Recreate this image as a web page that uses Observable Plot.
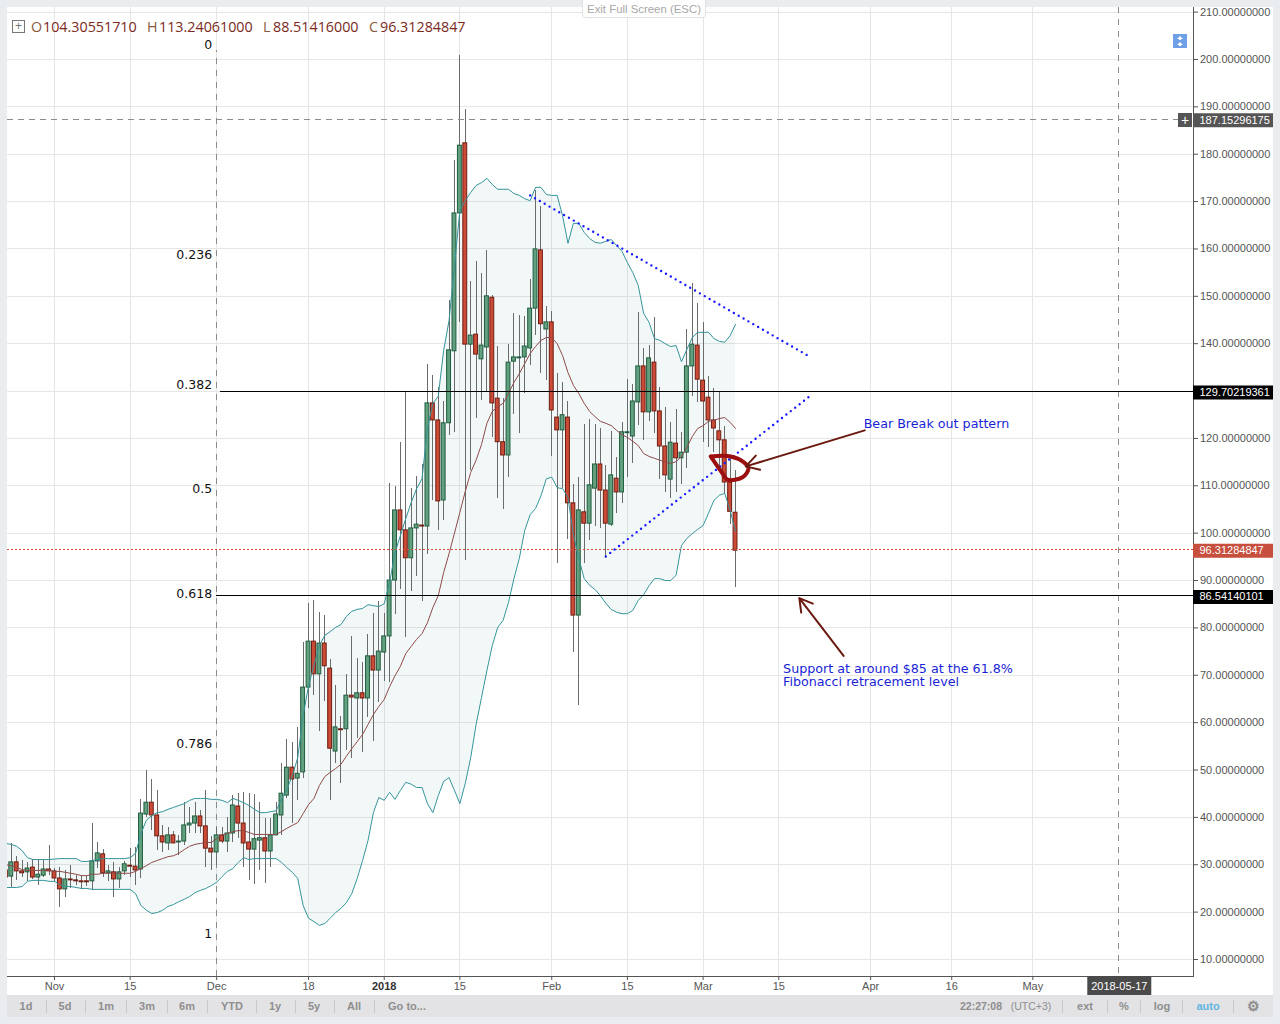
<!DOCTYPE html>
<html><head><meta charset="utf-8">
<script src="https://cdn.jsdelivr.net/npm/d3@7"></script>
<script src="https://cdn.jsdelivr.net/npm/@observablehq/plot@0.6"></script>
<style>
html,body{margin:0;padding:0;background:#e9edf0;width:1280px;height:1024px;overflow:hidden}
#sheet{position:absolute;left:7px;top:7px;width:1266px;height:988px;background:#fff}
#chart{position:absolute;left:0;top:0}
.bar{position:absolute;left:7px;top:995px;width:1266px;height:22px;background:#e3e3e5;font:bold 11px "Liberation Sans",sans-serif;color:#8e8e8e}
.bar span{position:absolute;top:5px;transform:translateX(-50%);white-space:nowrap}
.bar i{position:absolute;top:5px;width:1px;height:13px;background:#c9c9cc}
#hdr{position:absolute;left:31px;top:17px;font:14.3px "Open Sans",sans-serif;color:#7a2a1c;white-space:nowrap;background:transparent}
#hdr b{font-weight:400;color:#8a5c3c;position:absolute;top:0}
#hdr span{position:absolute;top:0}
#plus{position:absolute;left:12px;top:20px;width:11px;height:11px;border:1px solid #777;color:#777;font:12px/10px "Liberation Sans";text-align:center}
#exit{position:absolute;left:582px;top:-1px;width:122px;height:17px;border:1px solid #dfe2e5;border-radius:0 0 4px 4px;background:#fff;color:#a8a8a8;font:11.4px/19px "Liberation Sans";text-align:center}
#scale{position:absolute;left:1173px;top:34px;width:14px;height:14px;background:#6f9fe6}
#cross{position:absolute;left:1178px;top:113px;width:14px;height:14px;background:#555;color:#fff;font:14px/14px "Liberation Sans";text-align:center}
</style></head><body>
<div id="sheet"></div>
<div id="chart"></div>
<div id="plus">+</div>
<div id="hdr"><b style="left:0">O</b><span style="left:12px">104.30551710</span><b style="left:116px">H</b><span style="left:128px">113.24061000</span><b style="left:232px">L</b><span style="left:242px">88.51416000</span><b style="left:338px">C</b><span style="left:349px">96.31284847</span></div>
<div id="exit">Exit Full Screen (ESC)</div>
<div id="scale"><svg width="14" height="14" viewBox="0 0 14 14"><path d="M7 2l-3 3h2v1h2v-1h2zM7 8l-3 3h2v1h2v-1h2z" fill="#fff"/></svg></div>
<div id="cross">+</div>
<div class="bar" id="bar"></div>
<script>
const opens=[28.8,27.5,30.5,28.6,28.4,29.4,27.3,27.7,29.0,28.6,27.1,24.8,26.9,26.7,26.5,26.5,26.5,30.7,32.2,28.2,28.4,26.9,28.6,29.8,29.6,29.0,40.6,43.1,40.4,36.0,34.5,36.2,34.7,34.9,38.3,38.7,40.2,38.1,33.4,32.6,36.2,34.9,36.6,42.3,38.7,34.7,33.2,35.1,35.6,32.8,36.2,40.4,44.6,50.5,48.2,49.5,67.4,77.1,70.2,76.7,71.4,53.9,58.6,58.6,65.7,65.1,66.2,65.1,74.0,71.0,74.8,78.2,90.0,104.8,100.6,94.7,101.0,101.6,101.4,127.4,123.8,106.9,123.2,138.4,167.5,182.3,139.8,141.9,136.7,139.2,149.7,128.4,119.2,116.4,136.2,136.9,137.1,139.0,147.4,159.7,143.0,144.5,124.4,121.7,124.4,106.3,82.6,104.4,102.0,109.4,114.5,109.0,101.8,111.5,108.6,121.1,120.4,127.6,135.2,125.5,136.0,125.7,118.3,111.3,118.9,115.8,117.0,135.2,139.6,132.2,128.6,123.8,121.5,119.6,110.7,104.31];
const closes=[27.3,30.5,28.6,28.2,29.2,27.3,27.9,29.0,28.6,27.1,24.8,26.9,26.7,26.5,26.3,26.3,30.7,32.4,28.2,28.6,26.9,28.4,30.1,29.6,28.8,40.8,43.1,40.4,36.0,34.7,36.2,34.5,34.9,38.3,38.7,40.2,38.1,33.4,32.6,36.2,34.9,36.6,42.5,38.7,34.5,33.2,35.4,35.6,32.8,36.2,40.6,45.0,50.5,48.0,49.2,67.4,77.1,70.2,76.7,71.9,54.5,59.0,58.4,65.7,65.3,66.2,65.1,74.0,71.0,75.0,78.2,90.0,104.8,100.6,94.7,101.0,101.8,101.4,127.4,123.8,106.7,123.2,138.6,167.5,181.8,139.8,141.7,137.7,139.6,150.0,127.4,119.2,116.4,136.0,137.1,137.1,139.4,147.4,159.9,144.1,144.5,125.9,121.7,124.9,106.3,82.6,104.8,102.0,110.1,114.5,109.0,102.0,112.2,108.6,121.3,121.3,127.8,135.2,125.5,136.9,125.7,118.3,112.2,119.1,115.8,117.0,135.2,139.8,132.4,127.8,123.8,122.1,119.6,110.7,104.5,96.31];
const highs=[30.5,34.5,31.7,30.9,30.5,31.1,31.1,30.9,34.1,29.2,29.4,28.8,29.8,27.7,27.7,27.5,38.7,34.7,33.2,29.8,30.5,29.4,30.7,33.4,33.6,43.8,49.9,48.0,45.7,38.3,37.9,37.0,36.2,43.1,42.1,43.1,41.5,45.7,36.0,37.8,37.8,40.0,44.6,45.0,45.2,45.0,44.8,43.1,39.8,39.8,43.1,51.4,56.4,55.8,59.0,76.9,85.2,85.8,83.3,82.6,73.3,67.8,61.3,70.2,78.2,73.5,72.7,78.6,83.0,85.6,83.0,110.5,109.9,119.2,129.7,109.4,112.0,114.5,135.6,133.3,130.8,127.8,149.1,178.7,200.8,189.5,153.1,157.3,154.8,159.7,150.2,139.4,128.4,139.8,146.4,146.0,145.7,153.6,172.3,169.0,147.9,146.8,133.7,131.8,127.8,110.3,111.8,122.9,124.0,122.9,122.1,114.3,121.5,116.0,123.4,132.4,131.4,146.6,139.0,139.6,145.5,130.8,126.5,123.4,126.1,121.3,143.0,152.7,148.5,144.5,133.1,130.5,129.7,122.5,116.0,113.24];
const lows=[25.8,25.2,26.7,27.3,26.5,26.9,25.6,27.3,27.7,26.3,21.0,23.1,25.0,25.6,24.8,25.4,24.6,29.2,27.3,26.5,23.1,25.0,27.7,27.3,25.6,27.1,40.0,37.2,33.0,32.6,33.0,34.5,31.9,34.1,36.6,36.6,36.6,29.4,28.8,29.8,34.5,32.6,34.7,35.5,29.4,26.7,25.8,28.8,26.1,29.4,36.2,36.2,44.0,38.7,43.6,48.2,63.0,65.7,58.1,64.5,43.6,51.4,47.2,54.1,52.4,56.7,53.7,61.1,56.0,64.3,68.7,68.5,82.8,88.1,78.0,87.7,90.9,85.6,95.5,106.9,100.6,102.7,120.6,121.3,144.5,94.2,113.2,124.2,128.0,129.7,120.2,107.3,105.0,111.8,125.1,121.0,129.5,135.4,141.7,133.7,132.2,116.2,93.6,109.4,98.7,74.8,63.6,93.6,98.5,101.4,101.0,94.7,101.4,104.2,106.3,111.8,114.7,122.7,119.6,123.6,121.0,111.3,108.6,107.3,108.6,110.3,113.7,128.9,127.6,119.2,118.1,117.0,113.2,108.4,101.8,88.51];
const upper=[34.5,34.3,33.9,33.0,31.5,31.1,31.1,31.1,31.1,31.2,31.3,31.3,31.3,31.3,30.7,30.7,30.9,31.1,31.3,31.3,31.3,31.3,31.3,31.5,32.4,36.6,39.4,40.4,41.0,41.2,41.7,42.1,42.5,42.9,43.6,44.0,44.0,44.0,43.8,43.8,43.6,43.1,44.0,43.6,43.1,42.5,41.7,41.0,41.0,41.2,41.4,43.8,45.9,48.8,52.6,61.5,67.8,72.1,76.3,78.4,79.2,80.1,80.7,82.4,83.5,83.9,84.1,84.9,84.7,84.5,85.1,89.6,95.9,99.5,103.1,106.5,109.4,111.5,122.1,127.4,128.9,138.6,144.9,156.5,168.1,170.2,171.9,173.4,174.0,174.9,173.6,172.6,172.6,172.6,171.7,171.3,170.6,170.2,173.0,173.0,171.5,171.3,171.3,167.0,161.2,165.4,165.4,163.5,162.2,161.4,161.2,161.6,162.0,160.7,159.5,157.1,155.0,152.3,146.4,144.5,141.1,140.7,140.0,139.4,139.6,136.2,138.8,141.3,142.4,142.4,142.4,141.1,140.5,140.3,141.7,144.1];
const lower=[25.2,25.2,25.2,25.4,26.5,26.7,26.7,26.7,26.5,26.5,25.8,25.4,25.4,25.2,25.0,25.0,24.8,24.8,24.8,24.8,24.8,24.8,24.8,24.8,23.9,21.4,20.4,19.7,19.9,20.4,21.2,21.6,22.2,22.7,23.3,24.1,24.6,25.0,25.6,26.3,27.5,28.6,29.2,30.5,31.5,31.1,31.3,31.3,31.3,31.3,31.3,30.5,29.4,28.4,27.1,21.4,18.7,18.0,17.2,17.6,18.7,19.9,20.8,22.0,23.9,27.1,30.9,35.1,41.0,44.2,43.6,45.3,43.8,45.7,47.4,47.0,46.3,46.3,42.9,41.0,44.6,47.6,48.4,45.7,42.9,47.2,52.6,59.6,65.3,71.0,76.3,80.1,81.6,85.4,90.4,94.7,100.6,103.9,105.2,107.9,111.5,111.8,109.6,109.4,107.5,99.7,94.7,90.4,89.0,88.1,86.8,85.2,83.9,83.3,83.0,83.0,83.7,85.8,87.0,88.9,90.4,90.4,90.0,90.0,91.1,97.4,98.9,99.9,100.8,101.6,104.2,106.9,108.0,108.4,104.8,100.4];
const basis=[30.0,29.8,29.4,29.0,28.8,28.8,28.8,28.8,28.8,28.6,28.6,28.4,28.2,28.0,27.7,27.7,28.0,28.0,28.2,28.2,28.2,28.2,28.2,28.2,28.6,29.2,29.8,30.5,30.9,31.3,31.7,31.9,32.4,33.2,33.9,34.3,34.5,34.7,34.7,35.5,36.2,36.6,37.0,37.2,37.2,36.8,36.4,36.4,36.4,36.4,36.4,37.0,37.7,38.3,38.9,40.8,42.7,44.0,46.7,48.6,49.5,50.3,51.2,52.9,54.5,56.0,57.5,59.6,61.7,63.4,64.9,67.6,69.9,71.9,74.6,76.1,77.6,78.8,81.1,84.3,86.8,91.7,95.7,100.0,104.4,108.8,112.8,115.4,118.7,123.2,125.7,126.7,127.4,129.5,131.8,133.7,135.8,137.9,139.4,140.7,141.3,141.3,140.0,137.5,133.9,131.2,129.5,127.4,125.7,124.6,123.6,123.2,122.7,121.7,120.8,120.2,119.4,118.5,116.8,116.2,115.8,115.4,115.0,114.7,115.1,116.2,118.1,120.4,122.1,122.7,123.6,123.8,124.2,124.4,123.4,122.1];

const priceTicks=d3.range(10,220,10);
const xTickDays=[0,14,30,47,61,75,92,106,120,134,151,166,181];
const xTickLabels=["Nov","15","Dec","18","","15","Feb","15","Mar","15","Apr","16","May"];
const fibLabels=["0","0.236","0.382","0.5","0.618","0.786","1"];
const fibPrices=[203.0,158.7,131.3,109.3,87.1,55.4,15.3];
const firstCandleDay=-9, markerDay=197, fibStartDay=30;
const trendDays=[[88,139.5],[102,139.5]];
const trendPrices=[[171.3,137.4],[95.1,128.7]];
const doodleDays=[121.4,125.1,127.5,128.4,127.3,124.5,123.6,121.4];
const doodlePrices=[116.2,116.2,115.0,113.7,111.8,111.3,112.6,116.2];
const tags=[{p:187.15296175,bg:"#555",t:"187.15296175"},{p:129.70219361,bg:"#000",t:"129.70219361"},{p:96.31284847,bg:"#c64f3e",t:"96.31284847"},{p:86.54140101,bg:"#000",t:"86.54140101"}];
const leftBtns=[["1d",19],["5d",58],["1m",99],["3m",140],["6m",180],["YTD",225],["1y",268],["5y",307],["All",347],["Go to...",400]];
const leftSeps=[39,78,119,160,200,249,288,327,367];
const rightSeps=[1055,1100,1133,1175,1226];

const day=n=>new Date(Date.UTC(2017,10,1)+n*864e5);
const pxDay=5.405;
const xDomain=[day((7-54)/pxDay),day((1193-54)/pxDay)];
const yDomain=[6.41,210.97];
const farRight=(1273-54)/pxDay, labelRight=(1199-54)/pxDay;
const candles=opens.map((o,i)=>({d:firstCandleDay+i,o,c:closes[i],h:highs[i],l:lows[i],u:upper[i],lo:lower[i],b:basis[i]}));
const up=d=>d.c>=d.o;
const crisp={shapeRendering:"crispEdges"};

const plot=Plot.plot({
  width:1280,height:995,marginLeft:7,marginRight:87,marginTop:7,marginBottom:19,
  style:{background:"transparent",fontFamily:"Liberation Sans",fontSize:"11px"},
  x:{type:"utc",domain:xDomain,axis:null},
  y:{domain:yDomain,axis:null},
  marks:[
    Plot.gridY(priceTicks,{stroke:"#e6e6e6",strokeOpacity:1,...crisp}),
    Plot.gridX(xTickDays.map(day),{stroke:"#e6e6e6",strokeOpacity:1,...crisp}),
    Plot.ruleX([day(30)],{y1:6.41,y2:201.9,stroke:"#8c8c8c",strokeDasharray:"6,6",dx:-0.5,...crisp}),
    Plot.ruleX([day(markerDay)],{stroke:"#8c8c8c",strokeDasharray:"6,6",dx:-1,...crisp}),
    Plot.areaY(candles,{x:d=>day(d.d),y1:"lo",y2:"u",fill:"#2a8c8c",fillOpacity:0.06,clip:true}),
    Plot.ruleX(candles,{x:d=>day(d.d),y1:"l",y2:"h",stroke:"#6b6b6b",strokeWidth:1,clip:true,...crisp}),
    Plot.rect(candles,{x1:d=>day(d.d-0.36),x2:d=>day(d.d+0.36),y1:"o",y2:"c",fill:d=>up(d)?"#62a07f":"#cc4b37",stroke:d=>up(d)?"#1f5c3e":"#6e1d12",strokeWidth:1,clip:true}),
    Plot.line(candles,{x:d=>day(d.d),y:"u",stroke:"#35949a",strokeWidth:1,clip:true}),
    Plot.line(candles,{x:d=>day(d.d),y:"lo",stroke:"#35949a",strokeWidth:1,clip:true}),
    Plot.line(candles,{x:d=>day(d.d),y:"b",stroke:"#8f4a4a",strokeWidth:1,clip:true}),
    Plot.ruleY([129.70219361],{x1:day(fibStartDay+0.7),x2:xDomain[1],stroke:"#000",strokeWidth:1,dy:-1,...crisp}),
    Plot.ruleY([86.54140101],{x1:day(fibStartDay),x2:xDomain[1],stroke:"#000",strokeWidth:1,dy:-1,...crisp}),
    Plot.ruleY([187.15296175],{stroke:"#8c8c8c",strokeDasharray:"6,5",dy:-1,...crisp}),
    Plot.ruleY([96.31284847],{stroke:"#c64f3e",strokeDasharray:"2,2",dy:-1,...crisp}),
    ...trendDays.map((t,i)=>Plot.line(t.map((d,j)=>({d,p:trendPrices[i][j]})),{x:d=>day(d.d),y:"p",stroke:"#1a1aff",strokeWidth:2.4,strokeLinecap:"round",strokeDasharray:"0,5.6"})),
    Plot.line(doodleDays.map((d,i)=>({d,p:doodlePrices[i]})),{x:d=>day(d.d),y:"p",stroke:"#9c0f0f",strokeWidth:4,curve:"catmull-rom"}),
    Plot.arrow([{d1:149.9,p1:121.7,d2:127.9,p2:114.1},{d1:146,p1:74.1,d2:137.8,p2:86.3}],{x1:d=>day(d.d1),y1:"p1",x2:d=>day(d.d2),y2:"p2",stroke:"#6a1a10",strokeWidth:2,headLength:11,bend:false}),
    Plot.text(["Bear Break out pattern"],{x:()=>day(149.7),y:()=>123.0,textAnchor:"start",fill:"#1a1fd6",fontFamily:"DejaVu Sans",fontSize:12.7}),
    Plot.text(["Support at around $85 at the 61.8%","Fibonacci retracement level"],{x:()=>day(134.8),y:(d,i)=>[71.3,68.6][i],textAnchor:"start",fill:"#1a1fd6",fontFamily:"DejaVu Sans",fontSize:12.7}),
    Plot.text(fibLabels,{x:()=>day(30),y:(d,i)=>fibPrices[i],dx:-4.5,textAnchor:"end",fill:"#111",fontFamily:"DejaVu Sans",fontSize:12.5}),
    Plot.frame({anchor:"right",stroke:"#555"}),
    Plot.frame({anchor:"bottom",stroke:"#555"}),
    Plot.axisY(priceTicks,{anchor:"right",tickSize:4,tickPadding:2.5,color:"#555",label:null,tickFormat:d=>d.toFixed(8)}),
    Plot.axisX(xTickDays.map(day),{anchor:"bottom",tickSize:4,tickPadding:2,color:"#555",label:null,tickFormat:(d,i)=>xTickLabels[i]}),
    Plot.text(["2018"],{x:()=>day(61),frameAnchor:"bottom",dy:10,fill:"#333",fontWeight:"bold",lineAnchor:"middle"}),
    Plot.ruleY(tags,{y:"p",x1:()=>xDomain[1],x2:()=>day(farRight),stroke:"bg",strokeWidth:14}),
    Plot.text(tags,{y:"p",x:()=>day(labelRight),text:"t",textAnchor:"start",fill:"#fff"}),
    Plot.ruleX([day(markerDay)],{y1:6.41,y2:2.4,stroke:"#4a4a4a",strokeWidth:64}),
    Plot.text(["2018-05-17"],{x:()=>day(markerDay),frameAnchor:"bottom",dy:10,fill:"#fff",lineAnchor:"middle"})
  ]
});
document.getElementById("chart").appendChild(plot);

const bar=document.getElementById("bar");
let h="";
leftBtns.forEach(([t,x])=>h+=`<span style="left:${x}px">${t}</span>`);
leftSeps.concat(rightSeps).forEach(x=>h+=`<i style="left:${x}px"></i>`);
h+=`<span style="left:974px;font-size:10.5px">22:27:08</span><span style="left:1024px;font-weight:400;font-size:10.5px">(UTC+3)</span>`;
h+=`<span style="left:1078px">ext</span><span style="left:1117px">%</span><span style="left:1155px">log</span><span style="left:1201px;color:#5fb5e0">auto</span><span style="left:1246px;font-size:14px;top:3px">⚙</span>`;
bar.innerHTML=h;
</script>
</body></html>
